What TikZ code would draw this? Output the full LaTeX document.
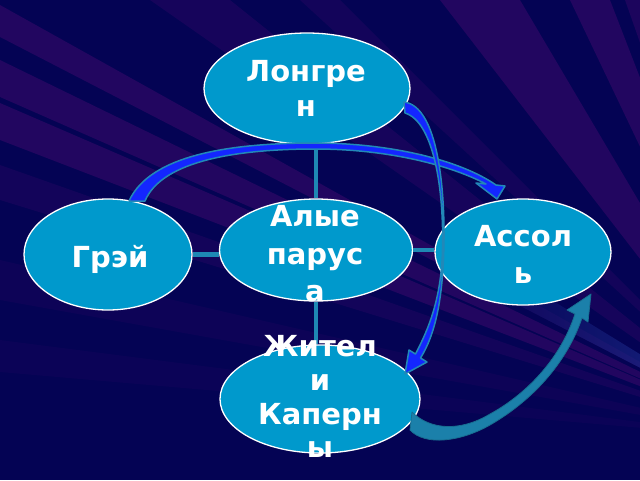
\documentclass[tikz,border=0pt]{standalone}
\usepackage{fontspec}
\setmainfont{DejaVu Sans}
\usetikzlibrary{shapes.geometric}
\definecolor{bg}{HTML}{040354}
\definecolor{ray}{HTML}{220660}
\definecolor{rayl}{HTML}{2A40A8}
\definecolor{ell}{HTML}{0099CC}
\definecolor{conn}{HTML}{1E88B4}
\definecolor{arblue}{HTML}{1426FF}
\definecolor{arteal}{HTML}{2288B8}
\definecolor{arteal2}{HTML}{1B80AA}
\begin{document}
\begin{tikzpicture}[x=1pt,y=-1pt,
  ellnode/.style={ellipse, draw=white, line width=1.3pt, fill=ell, inner sep=0pt},
  conline/.style={draw=conn, line width=4.5pt},
  bluearrow/.style={fill=arblue, draw=arteal, line width=1.5pt, line join=round},
  tealarrow/.style={fill=arteal2, draw=arteal2!85!black, line width=0.8pt, line join=round},
  lbl/.style={text=white, inner sep=0pt, anchor=base, font=\bfseries}]
\useasboundingbox (0,0) rectangle (640,480);
\fill[bg] (0,0) rectangle (640,480);
\begin{scope}
\clip (0,0) rectangle (640,480);
\coordinate (O) at (780,440);
\fill[ray] (O) -- (0,5) -- (0,37) -- cycle;
\fill[ray] (O) -- (0,60) -- (0,97) -- cycle;
\fill[ray] (O) -- (0,103) -- (0,140) -- cycle;
\fill[ray, opacity=.5] (O) -- (0,165) -- (0,200) -- cycle;
\fill[ray, opacity=.6] (O) -- (150,0) -- (230,0) -- cycle;
\fill[ray, opacity=.5] (O) -- (300,0) -- (340,0) -- cycle;
\fill[ray] (O) -- (440,0) -- (520,0) -- cycle;
\fill[ray] (O) -- (570,0) -- (610,0) -- cycle;
\fill[ray, opacity=.8] (O) -- (625,0) -- (690,0) -- cycle;
\fill[ray, opacity=.3] (O) -- (0,260) -- (0,300) -- cycle;
\fill[ray, opacity=.25] (O) -- (0,340) -- (0,372) -- cycle;
\shade[left color=bg, right color=rayl, opacity=.7] (O) -- (470,250) -- (470,280) -- cycle;
\end{scope}

% ellipses
\node[ellnode, minimum width=206pt, minimum height=111pt] (L) at (307,88.5) {};
\node[ellnode, minimum width=168pt, minimum height=111pt] (G) at (108,254.5) {};
\node[ellnode, minimum width=193pt, minimum height=102pt] (A) at (316,250) {};
\node[ellnode, minimum width=176pt, minimum height=106pt] (S) at (523,252) {};
\node[ellnode, minimum width=200pt, minimum height=108pt] (Z) at (320,399) {};

% connectors
\draw[conline] (A.north) -- (A.north |- L.south);
\draw[conline] (A.south) -- (A.south |- Z.north);
\draw[conline] (G.east) -- (G.east -| A.west);
\draw[conline] (A.east) -- (A.east -| S.west);

% arrows
\path[bluearrow] (129,201) .. controls (150,155) and (230,143) .. (315,143)
  .. controls (390,143) and (460,160) .. (496,185) -- (505,186) -- (497,199)
  -- (476,183) -- (486,184) .. controls (452,166) and (390,149) .. (315,149)
  .. controls (240,149) and (162,160) .. (145,201) -- cycle;
\path[bluearrow] (404,102) .. controls (438,106) and (445.5,190) .. (443.8,250)
  .. controls (442.5,300) and (435,335) .. (420.5,358) -- (427,362) -- (405,374)
  -- (409,350) -- (415.5,354) .. controls (428,330) and (441.2,300) .. (442.5,250)
  .. controls (444,190) and (434,122) .. (405,113) -- cycle;
\path[tealarrow] (410,430) .. controls (425,446) and (460,442) .. (490,425)
  .. controls (530,402) and (566,365) .. (582,318) -- (588,322) -- (591,294)
  -- (567,310) -- (575,314) .. controls (560,360) and (525,395) .. (490,414)
  .. controls (460,432) and (430,430) .. (412,412) -- cycle;

% labels
\node[lbl] (tL) at (306,81.7) {\fontsize{29}{35}\selectfont\begin{tabular}[t]{@{}c@{}}Лонгре\\н\end{tabular}};
\node[lbl] (tG) at (110,267) {\fontsize{29}{35}\selectfont Грэй};
\node[lbl] (tA) at (315,226.7) {\fontsize{29}{37.5}\selectfont\begin{tabular}[t]{@{}c@{}}Алые\\парус\\а\end{tabular}};
\node[lbl] (tS) at (523,246) {\fontsize{29}{37.5}\selectfont\begin{tabular}[t]{@{}c@{}}Ассол\\ь\end{tabular}};
\node[lbl] (tZ) at (320,356.7) {\fontsize{29}{33.7}\selectfont\begin{tabular}[t]{@{}c@{}}Жител\\и\\Каперн\\ы\end{tabular}};
\end{tikzpicture}
\end{document}
